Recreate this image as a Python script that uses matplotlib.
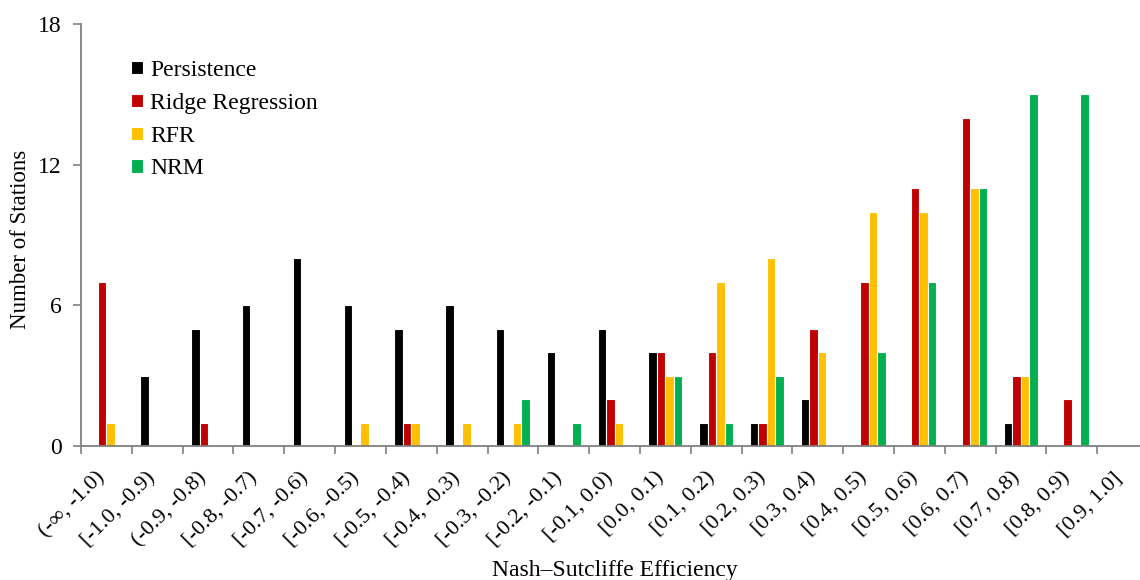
import numpy as np
from matplotlib import pyplot as plt
from matplotlib import transforms

# bins of Nash-Sutcliffe efficiency
categories = ["(-\u221e, -1.0)", "[-1.0, -0.9)", "(-0.9, -0.8)", "[-0.8, -0.7)",
              "[-0.7, -0.6)", "[-0.6, -0.5)", "[-0.5, -0.4)", "[-0.4, -0.3)",
              "[-0.3, -0.2)", "[-0.2, -0.1)", "[-0.1, 0.0)", "[0.0, 0.1)",
              "[0.1, 0.2)", "[0.2, 0.3)", "[0.3, 0.4)", "[0.4, 0.5)",
              "[0.5, 0.6)", "[0.6, 0.7)", "[0.7, 0.8)", "[0.8, 0.9)", "[0.9, 1.0]"]

persistence = [0, 3, 5, 6, 8, 6, 5, 6, 5, 4, 5, 4, 1, 1, 2, 0, 0, 0, 1, 0, 0]
ridge = [7, 0, 1, 0, 0, 0, 1, 0, 0, 0, 2, 4, 4, 1, 5, 7, 11, 14, 3, 2, 0]
rfr = [1, 0, 0, 0, 0, 1, 1, 1, 1, 0, 1, 3, 7, 8, 4, 10, 10, 11, 3, 0, 0]
nrm = [0, 0, 0, 0, 0, 0, 0, 0, 2, 1, 0, 3, 1, 3, 0, 4, 7, 11, 15, 15, 0]

series = ["Persistence", "Ridge Regression", "RFR", "NRM"]
couleurs = ["#000000", "#C00000", "#FFC000", "#00B050"]

plt.rcParams["font.family"] = ["Liberation Serif", "DejaVu Serif"]
plt.rcParams["font.size"] = 16

fig = plt.figure(figsize=(11.4, 5.8), dpi=100)
ax = fig.add_axes([0.0711, 0.231, 1.007 - 0.0711, 0.9586 - 0.231])

x = np.arange(len(categories))
largeur = 0.167
for i, (nom, valeurs) in enumerate(zip(series, [persistence, ridge, rfr, nrm])):
    ax.bar(x + (i - 1.5) * largeur, valeurs, largeur, color=couleurs[i],
           edgecolor="white", linewidth=0.8, label=nom)

ax.set_xlim(-0.5, len(categories) - 0.5)
ax.set_ylim(0, 18)
ax.set_yticks([0, 6, 12, 18])

ax.set_xticks(x)
ax.set_xticklabels(categories, rotation=45, ha="right", va="center",
                   rotation_mode="anchor")
ax.set_xticks(np.arange(len(categories) + 1) - 0.5, minor=True)
ax.tick_params(axis="x", which="major", length=0, pad=21, labelsize=16)
ax.tick_params(axis="x", which="minor", length=6, width=1.2, color="#808080")
ax.tick_params(axis="y", length=6, width=1.2, color="#808080", pad=8, labelsize=17)

# petit décalage des étiquettes vers la gauche
decalage = transforms.ScaledTranslation(-4 / 100, 0, fig.dpi_scale_trans)
for etiquette in ax.get_xticklabels():
    etiquette.set_transform(etiquette.get_transform() + decalage)

for cote in ["top", "right"]:
    ax.spines[cote].set_visible(False)
for cote in ["left", "bottom"]:
    ax.spines[cote].set_color("#808080")
    ax.spines[cote].set_linewidth(1.3)

ax.set_xlabel("Nash\u2013Sutcliffe Efficiency", fontsize=17)
ax.xaxis.set_label_coords(0.5, -0.27)
ax.set_ylabel("Number of Stations", fontsize=16.5)
ax.yaxis.set_label_coords(-0.057, 0.49)
ax.yaxis.label.set_va("center")

ax.legend(loc="upper left", bbox_to_anchor=(0.027, 0.965), frameon=False,
          handlelength=0.5, handleheight=0.5, handletextpad=0.3,
          labelspacing=0.5, fontsize=17)

plt.savefig("out.png", dpi=100)
